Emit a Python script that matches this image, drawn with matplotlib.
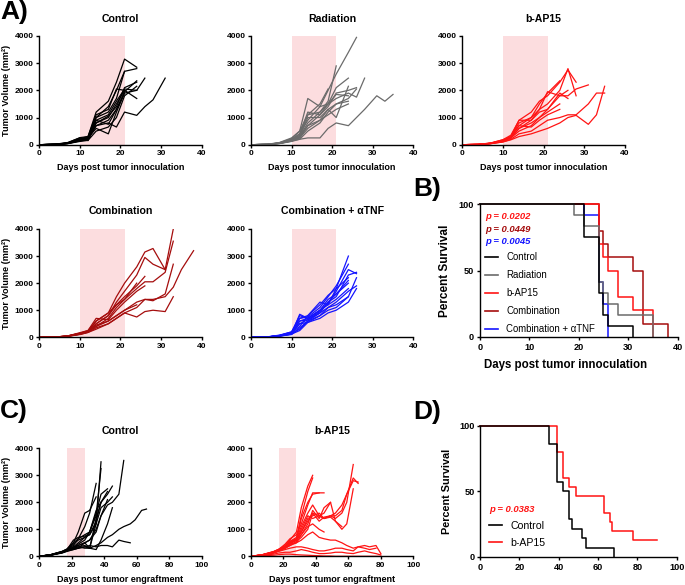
import matplotlib
matplotlib.use("Agg")
import matplotlib.pyplot as plt
from matplotlib.lines import Line2D

plt.rcParams["font.family"] = ["Liberation Sans", "DejaVu Sans"]
plt.rcParams["font.weight"] = "bold"

# measurement days (panel A: days post innoculation, panel C: days post engraftment)
days_a = [0, 4, 7, 10, 12, 14, 17, 19, 21, 24, 26, 28, 31, 33, 35, 38]
days_c = [0, 7, 14, 17, 21, 24, 28, 31, 35, 38, 42, 45, 49, 52, 56, 59, 63, 66, 70, 73, 77, 80]

# tumor volumes per mouse (mm^3), one list per animal, truncated at endpoint
control_a = [
    [0, 15, 60, 220, 300, 1200, 1600, 2300, 3150, 2850],
    [0, 10, 50, 180, 250, 1000, 1400, 2000, 2700, 2800],
    [0, 20, 80, 250, 150, 900, 1100, 1600, 2050, 2000, 2450],
    [0, 12, 50, 160, 200, 700, 900, 1300, 1950, 2350],
    [0, 10, 40, 140, 180, 800, 1000, 1500, 2000],
    [0, 15, 70, 260, 300, 1100, 1300, 2050, 2000, 1700],
    [0, 8, 40, 120, 160, 500, 650, 1000, 1800, 2150],
    [0, 12, 60, 200, 250, 600, 400, 1200, 1900],
    [0, 10, 50, 180, 220, 900, 750, 1300, 1900, 2000],
    [0, 10, 45, 150, 200, 700, 800, 650, 1200, 1080, 1400, 1650, 2450],
    [0, 15, 60, 200, 270, 1000, 1200, 1700, 2700],
    [0, 10, 50, 170, 200, 800, 1050, 1400, 2100, 2300],
]
radiation_a = [
    [0, 10, 60, 200, 400, 900, 1400, 2000, 2600, 3400, 3950],
    [0, 15, 80, 250, 500, 1700, 1400, 1500, 2100, 2450],
    [0, 12, 70, 220, 500, 1100, 1500, 2050],
    [0, 10, 50, 150, 300, 800, 1200, 1600, 2900],
    [0, 10, 60, 180, 350, 1100, 1200, 1500, 1850, 1800],
    [0, 10, 50, 140, 250, 600, 900, 1300, 1000, 2150],
    [0, 12, 60, 200, 300, 700, 1100, 1500, 1700, 1900, 1750, 2450],
    [0, 8, 40, 120, 200, 500, 800, 1200, 1500, 1700, 2050],
    [0, 10, 50, 150, 200, 250, 250, 600, 800, 700, 1000, 1300, 1800, 1600, 1850],
    [0, 10, 50, 150, 300, 1000, 1000, 1300, 1500, 1600],
    [0, 12, 60, 180, 400, 1200, 1100, 1400, 1900, 2000, 2100],
    [0, 10, 45, 130, 250, 700, 900, 1100, 1300, 1500],
]
bap15_a = [
    [0, 10, 50, 150, 300, 700, 1000, 1500, 1900, 2350],
    [0, 12, 60, 180, 350, 900, 1200, 1600, 1800, 2300, 2750, 2300],
    [0, 10, 50, 150, 250, 600, 900, 1300, 1500, 2000, 2800, 1800],
    [0, 10, 40, 120, 250, 500, 700, 1000, 1300, 1800, 1800, 2050, 2200],
    [0, 8, 40, 100, 200, 400, 500, 700, 900, 1000, 1100, 1100, 1500, 1900, 1900],
    [0, 8, 35, 100, 180, 300, 400, 500, 600, 800, 1000, 1080, 750, 1100, 2150],
    [0, 10, 50, 150, 300, 900, 900, 1200, 1300, 1900, 1700],
    [0, 12, 60, 180, 300, 800, 1000, 1300, 1950, 1800, 2000],
    [0, 10, 45, 130, 250, 600, 800, 1000, 1200, 1500],
    [0, 10, 50, 140, 280, 700, 650, 900, 1100, 1300],
]
combination_a = [
    [0, 10, 50, 150, 250, 600, 900, 1500, 2000, 2600, 3150, 3280, 2500],
    [0, 8, 40, 140, 200, 500, 800, 1300, 1700, 2300, 2950, 2700, 2500, 4000],
    [0, 10, 50, 150, 220, 400, 700, 1100, 1400, 1800, 2050, 2050, 2400, 3550],
    [0, 8, 40, 120, 200, 600, 900, 1200, 1500, 1900, 2250],
    [0, 10, 50, 170, 250, 700, 650, 1000, 1300, 1700, 1900],
    [0, 8, 35, 100, 180, 350, 500, 700, 900, 1100, 1400, 1400, 1500, 1850, 2500, 3200],
    [0, 10, 45, 130, 200, 450, 600, 800, 1000, 1300, 1400, 1350, 1600, 2700],
    [0, 8, 40, 110, 180, 300, 500, 700, 900, 750, 950, 1000, 950, 1500],
    [0, 10, 50, 140, 220, 500, 800, 1200, 1400, 2000],
    [0, 8, 40, 120, 200, 400, 600, 800, 1000, 1200],
]
combo_tnf_a = [
    [0, 15, 80, 200, 800, 700, 1000, 1200, 1800, 3000],
    [0, 10, 60, 150, 700, 750, 1100, 1500, 1900, 2700],
    [0, 12, 70, 180, 600, 650, 900, 1300, 1500, 2300, 2400],
    [0, 10, 50, 130, 500, 550, 800, 1100, 1300, 1700, 1900],
    [0, 8, 40, 120, 850, 700, 1000, 1400, 1600, 2100],
    [0, 12, 60, 160, 400, 800, 1200, 1550, 1800, 2200],
    [0, 10, 55, 140, 300, 600, 800, 1000, 1100, 1500, 2200],
    [0, 10, 50, 120, 250, 550, 700, 900, 1000, 1300, 1800],
    [0, 12, 65, 200, 700, 800, 1300, 1200, 1400, 1800],
    [0, 10, 45, 100, 350, 600, 900, 1100, 1200, 1500],
    [0, 10, 50, 150, 600, 700, 1000, 1250, 1700, 2500, 2350],
    [0, 12, 60, 170, 500, 650, 950, 1300, 1600, 2000],
]
control_c = [
    [0, 60, 180, 250, 400, 650, 1100, 1600, 2700],
    [0, 50, 150, 220, 350, 500, 700, 800, 1200, 3500],
    [0, 50, 160, 230, 300, 450, 600, 900, 1500, 3250],
    [0, 60, 170, 260, 500, 650, 800, 900, 1600, 2300, 2500],
    [0, 40, 140, 200, 350, 400, 500, 300, 1400, 2000, 2300, 2600],
    [0, 50, 150, 220, 300, 350, 400, 300, 1200, 1800, 2000, 2200],
    [0, 45, 140, 210, 280, 300, 500, 600, 1000, 1500, 1900, 2000, 2300, 3550],
    [0, 55, 160, 240, 600, 700, 750, 800, 1300, 2000],
    [0, 50, 150, 220, 300, 350, 300, 300, 400, 500, 700, 800, 1000, 1100, 1200, 1350, 1700, 1750],
    [0, 45, 130, 200, 250, 300, 350, 400, 350, 400, 400, 350, 600, 550, 500],
    [0, 50, 160, 240, 450, 600, 700, 900, 1700, 2000, 2400],
    [0, 60, 180, 270, 500, 900, 1600, 1700, 2200],
    [0, 45, 140, 200, 300, 400, 500, 600, 900, 1500, 2100],
    [0, 40, 120, 180, 250, 300, 350, 300, 250, 600, 1200, 1800],
]
bap15_c = [
    [0, 60, 180, 260, 400, 600, 900, 1800, 2600, 3000],
    [0, 55, 170, 250, 380, 550, 700, 1500, 2400, 2900],
    [0, 50, 160, 240, 350, 500, 600, 1400, 2000, 2300, 2350, 2350],
    [0, 50, 150, 220, 350, 450, 600, 1000, 1500, 1400, 1500, 1400, 1500, 1500, 1700, 2300, 2900, 2700],
    [0, 45, 140, 210, 330, 500, 600, 900, 1400, 1500, 1600, 1400, 1500, 1400, 1600, 2000, 3400],
    [0, 50, 150, 220, 300, 450, 500, 800, 1200, 1700, 1400, 1800, 2000, 1300, 1000, 1200, 2500],
    [0, 40, 130, 200, 300, 400, 550, 700, 1000, 1600, 1300, 1450, 1500, 1600, 1900, 2300, 2800, 2750],
    [0, 45, 140, 200, 300, 400, 500, 600, 800, 900, 700, 650, 600, 600, 500, 400, 300, 350, 400, 350, 400, 100],
    [0, 40, 120, 180, 250, 300, 350, 350, 300, 250, 200, 200, 250, 300, 300, 250, 200, 350, 300, 250, 300],
    [0, 30, 80, 120, 150, 150, 200, 250, 200, 150, 100, 100, 120, 150, 150, 120, 100, 150, 200, 150, 100, 50],
    [0, 20, 40, 60, 80, 80, 60, 50, 40, 30, 20, 10, 10, 0, 0, 0, 0, 0, 0, 0, 0, 0],
    [0, 60, 170, 250, 450, 650, 800, 1200, 1900, 2350, 2350],
    [0, 50, 150, 230, 350, 550, 650, 1100, 1600, 1900, 1500, 1600, 2000],
    [0, 45, 140, 220, 320, 500, 600, 800, 1100, 1200, 1000, 900],
    [0, 50, 150, 230, 350, 500, 650, 900, 1300, 1600, 1500, 1400, 1450, 1300, 1100],
]

# Kaplan-Meier steps (day, percent survival)
surv_b_days = {
    "Control": [0, 21, 24, 25, 26, 31],
    "Radiation": [0, 19, 21, 24, 25, 26, 28, 35],
    "b-AP15": [0, 24, 25, 26, 28, 31, 35],
    "Combination": [0, 24, 25, 26, 31, 33, 38],
    "Combination + αTNF": [0, 21, 24, 25, 26],
}
surv_b_pct = {
    "Control": [100, 75, 33.3, 16.7, 8.3, 0],
    "Radiation": [100, 91.7, 83.3, 41.7, 33.3, 25, 16.7, 0],
    "b-AP15": [100, 70, 60, 50, 30, 20, 0],
    "Combination": [100, 80, 70, 60, 50, 10, 0],
    "Combination + αTNF": [100, 91.7, 41.7, 25, 0],
}
surv_d_days = {
    "Control": [0, 35, 39, 42, 45, 47, 52, 54, 68],
    "b-AP15": [0, 39, 42, 45, 49, 63, 66, 67, 78, 90],
}
surv_d_pct = {
    "Control": [100, 85.7, 57.1, 50, 28.6, 21.4, 14.3, 7.1, 0],
    "b-AP15": [100, 80, 60, 53.3, 46.7, 33.3, 26.7, 20, 13.3, 13.3],
}
p_values_b = [("p = 0.0202", "b-AP15"), ("p = 0.0449", "Combination"), ("p = 0.0045", "Combination + αTNF")]
p_value_d = "p = 0.0383"

colors = {
    "Control": "#000000",
    "Radiation": "#6b6b6b",
    "b-AP15": "#ff1414",
    "Combination": "#a50d0d",
    "Combination + αTNF": "#1414ff",
}
SHADE = "#fcdddf"

W, H = 685, 585
fig = plt.figure(figsize=(W / 100, H / 100), dpi=100)


def add_axes(left, top, right, bottom):
    return fig.add_axes([left / W, 1 - bottom / H, (right - left) / W, (bottom - top) / H])


def ftext(x, y, s, **kw):
    kw.setdefault("ha", "center")
    kw.setdefault("va", "center")
    fig.text(x / W, 1 - y / H, s, **kw)


def style(ax, labelsize=6):
    for side in ("top", "right"):
        ax.spines[side].set_visible(False)
    for side in ("left", "bottom"):
        ax.spines[side].set_linewidth(1.0)
    ax.tick_params(direction="out", length=2.5, width=1.0, pad=1.5, labelsize=labelsize)


def tumor_panel(ax, days, mice, color, shade, xmax, xstep):
    ax.axvspan(shade[0], shade[1], color=SHADE, lw=0, zorder=0)
    for vols in mice:
        ax.plot(days[:len(vols)], vols, color=color, lw=0.9)
    ax.set_xlim(0, xmax)
    ax.set_ylim(0, 4000)
    ax.set_xticks(range(0, xmax + 1, xstep))
    ax.set_yticks([0, 1000, 2000, 3000, 4000])
    style(ax)


# ---- panel A ----
col_x = [(39.3, 201.7), (251, 413.3), (462, 625)]
row1 = (36, 144.7)
row2 = (229, 337.3)
panels_a = [
    (col_x[0], row1, control_a, "Control", "Control"),
    (col_x[1], row1, radiation_a, "Radiation", "Radiation"),
    (col_x[2], row1, bap15_a, "b-AP15", "b-AP15"),
    (col_x[0], row2, combination_a, "Combination", "Combination"),
    (col_x[1], row2, combo_tnf_a, "Combination + αTNF", "Combination + αTNF"),
]
for (x0, x1), (y0, y1), mice, key, title in panels_a:
    ax = add_axes(x0, y0, x1, y1)
    tumor_panel(ax, days_a, mice, colors[key], (10, 21), 40, 10)
    ftext((x0 + x1) / 2, y0 - 17.5, title, fontsize=7.6)
    if y0 == row1[0]:
        ftext((x0 + x1) / 2, 167.5, "Days post tumor innoculation", fontsize=6.5)
    if x0 == col_x[0][0]:
        ftext(7, (y0 + y1) / 2, "Tumor Volume (mm²)", fontsize=6.6, rotation=90)

# ---- panel B ----
axb = add_axes(479.7, 204.3, 677.7, 337)
for key in reversed(list(surv_b_days)):
    axb.step(surv_b_days[key], surv_b_pct[key], where="post", color=colors[key], lw=1.1, clip_on=False)
axb.set_xlim(0, 40)
axb.set_ylim(0, 100)
axb.set_xticks([0, 10, 20, 30, 40])
axb.set_yticks([0, 50, 100])
style(axb, labelsize=6.6)
handles = [Line2D([], [], color=colors[k], lw=1.2) for k in surv_b_days]
axb.legend(handles, list(surv_b_days), loc="upper left", bbox_to_anchor=(0.027, 0.638),
           frameon=False, borderpad=0, borderaxespad=0, handlelength=1.3, handletextpad=0.9,
           labelspacing=0.83, prop={"size": 6.9, "weight": "normal"})
for (txt, key), y in zip(p_values_b, (216.7, 229.3, 241)):
    ftext(485, y, txt, ha="left", color=colors[key], fontsize=6.8, style="italic")
ftext(566, 365, "Days post tumor innoculation", fontsize=8.3)
ftext(445, 270.7, "Percent Survival", fontsize=8.5, rotation=90)

# ---- panel C ----
rowc = (448.3, 556.3)
for (x0, x1), mice, key, title in [(col_x[0], control_c, "Control", "Control"),
                                   (col_x[1], bap15_c, "b-AP15", "b-AP15")]:
    ax = add_axes(x0, rowc[0], x1, rowc[1])
    tumor_panel(ax, days_c, mice, colors[key], (17, 28), 100, 20)
    ftext((x0 + x1) / 2, 431, title, fontsize=7.6)
    ftext((x0 + x1) / 2, 580, "Days post tumor engraftment", fontsize=6.5)
    if x0 == col_x[0][0]:
        ftext(7, sum(rowc) / 2, "Tumor Volume (mm²)", fontsize=6.6, rotation=90)

# ---- panel D ----
axd = add_axes(480, 425.7, 676.7, 557)
for key in reversed(list(surv_d_days)):
    axd.step(surv_d_days[key], surv_d_pct[key], where="post", color=colors[key], lw=1.1, clip_on=False)
axd.set_xlim(0, 100)
axd.set_ylim(0, 100)
axd.set_xticks([0, 20, 40, 60, 80, 100])
axd.set_yticks([0, 50, 100])
style(axd, labelsize=6.6)
handles = [Line2D([], [], color=colors[k], lw=1.2) for k in surv_d_days]
axd.legend(handles, list(surv_d_days), loc="upper left", bbox_to_anchor=(0.046, 0.274),
           frameon=False, borderpad=0, borderaxespad=0, handlelength=1.2, handletextpad=0.8,
           labelspacing=0.66, prop={"size": 7.6, "weight": "normal"})
ftext(489, 509, p_value_d, ha="left", color=colors["b-AP15"], fontsize=6.8, style="italic")
ftext(446.5, 491, "Percent Survival", fontsize=7.8, rotation=90)

# panel letters
ftext(0, 11.5, "A)", ha="left", fontsize=19)
ftext(413, 189, "B)", ha="left", fontsize=19)
ftext(0, 411, "C)", ha="left", fontsize=19)
ftext(413, 412, "D)", ha="left", fontsize=19)

fig.savefig("out.png", dpi=100)
